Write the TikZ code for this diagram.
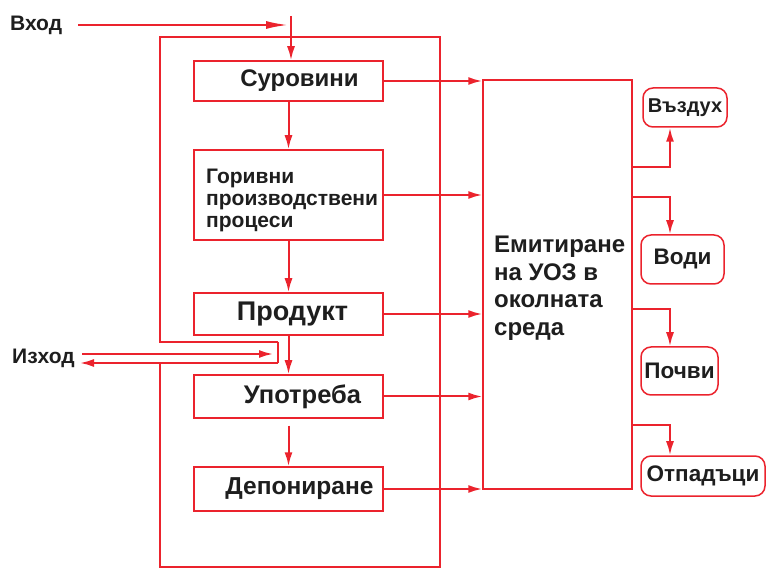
\documentclass[tikz,border=0pt]{standalone}
\usepackage{fontspec}
\setmainfont{Liberation Sans}
\usetikzlibrary{arrows.meta,calc}
\definecolor{lred}{RGB}{235,35,45}
\definecolor{ink}{RGB}{30,30,30}
\newcommand{\fsz}[1]{\bfseries\fontsize{#1}{#1}\selectfont}
\begin{document}
\begin{tikzpicture}[x=1pt,y=-1pt,
  line/.style={draw=lred,line width=2pt},
  arr/.style={line,-{Latex[length=14pt,width=8pt]}},
  box/.style={draw=lred,line width=1.5pt,inner sep=0pt,text=ink,font=\fsz{23}},
  rbox/.style={box,rounded corners=10pt,font=\fsz{22.5}},
  lbl/.style={text=ink,font=\fsz{21},inner sep=0pt}]
\useasboundingbox (0,0) rectangle (769,569);
% outer frame
\draw[line,line width=1.5pt] (278,342) -- (160,342) -- (160,37) -- (440,37) -- (440,567) -- (160,567) -- (160,363);
% left boxes
\node[box,minimum width=189,minimum height=40,font=\fsz{24}] (s) at (288.5,81) {\hspace{22pt}Суровини};
\node[box,minimum width=189,minimum height=90] (g) at (288.5,195) {};
\node[lbl,anchor=west,align=left,font=\bfseries\fontsize{21}{22}\selectfont] (gt) at (206,200)
  {Горивни\\ производствени\\ процеси};
\node[box,minimum width=189,minimum height=42,font=\fsz{27}] (p) at (288.5,314) {\raisebox{3pt}{\hspace{8pt}Продукт}};
\node[box,minimum width=189,minimum height=43,font=\fsz{25.5}] (u) at (288.5,396.5) {\hspace{28pt}Употреба};
\node[box,minimum width=189,minimum height=44,font=\fsz{24.5}] (d) at (288.5,489) {\hspace{22pt}Депониране};
% big box
\node[box,minimum width=149,minimum height=409] (e) at (557.5,284.5) {};
\node[lbl,anchor=north west,align=left,font=\bfseries\fontsize{24}{27.5}\selectfont] (et) at (494,236)
  {Емитиране\\ на УОЗ в\\ околната\\ среда};
% right boxes
\node[rbox,minimum width=84,minimum height=39,font=\fsz{20}] (v) at (685,107.5) {Въздух};
\node[rbox,minimum width=83,minimum height=49] (w) at (682.5,259.5) {Води};
\node[rbox,minimum width=77,minimum height=48] (c) at (679.5,371) {Почви};
\node[rbox,minimum width=124,minimum height=40] (o) at (703,476) {Отпадъци};
% input / output
\node[lbl,anchor=west] (in) at (10,25) {Вход};
\node[lbl,anchor=west] (out) at (12,358) {Изход};
\coordinate (ine) at (288,25);
\draw[arr,-{Latex[length=22pt,width=8pt]}] (78,25) -- (ine);
\coordinate (intop) at (291,16);
\draw[arr] (intop) -- (intop |- s.north);
\coordinate (notch) at (278,363);
\draw[line,line width=1.5pt] (278,342) -- (notch);
\draw[arr] (notch) -- (80,363);
\draw[arr] (82,354) -- (273,354);
% vertical flow
\draw[arr] (s.south) -- (g.north);
\draw[arr] (g.south) -- (p.north);
\draw[arr] (p.south) -- (u.north);
\draw[arr] ($(u.south)+(0,7)$) -- (d.north);
% to emission box
\draw[arr] (s.east) -- (s.east -| e.west);
\draw[arr] (g.east) -- (g.east -| e.west);
\draw[arr] (p.east) -- (p.east -| e.west);
\draw[arr] (u.east) -- (u.east -| e.west);
\draw[arr] (d.east) -- (d.east -| e.west);
% branches
\coordinate (b1) at (632,167);
\coordinate (b2) at (632,197);
\coordinate (b3) at (632,309);
\coordinate (b4) at (632,425);
\draw[arr] (b1) -- (670,167) -- (670,0 |- v.south);
\draw[arr] (b2) -- (670,197) -- (670,0 |- w.north);
\draw[arr] (b3) -- (670,309) -- (670,0 |- c.north);
\draw[arr] (b4) -- (670,425) -- (670,0 |- o.north);
\end{tikzpicture}
\end{document}
